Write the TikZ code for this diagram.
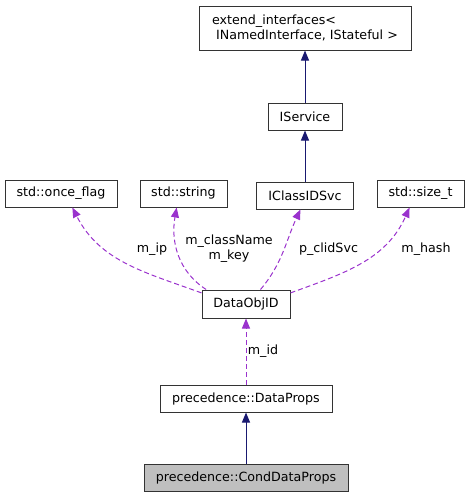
\documentclass[tikz,border=0pt]{standalone}
\usepackage{fontspec}
\setmainfont{DejaVu Sans}
\usetikzlibrary{positioning,arrows.meta}
\definecolor{navyedge}{HTML}{191970}
\definecolor{orchidedge}{HTML}{9A32CD}

\begin{document}
\begin{tikzpicture}[x=0.75pt,y=-0.75pt,
  every node/.style={font=\fontsize{9.5pt}{11.5pt}\selectfont},
  cls/.style={draw=black!80,line width=0.75pt,inner sep=0pt,minimum height=20.25pt},
  inherit/.style={draw=navyedge,line width=0.75pt,-{Triangle[length=7.5pt,width=6pt]}},
  member/.style={draw=orchidedge,line width=0.75pt,dash pattern=on 3.75pt off 2.25pt,
    -{Triangle[length=7.5pt,width=6pt]}},
  lbl/.style={inner sep=1pt,align=center}]
\useasboundingbox (0,0) rectangle (470,497);
\node [cls, minimum width=159pt, minimum height=33pt, align=left] (ext) at (305,28)
  {extend\_interfaces<\\\hspace*{3pt}INamedInterface, IStateful >};
\node [cls, minimum width=55.5pt, below=39pt of ext] (svc) {IService};
\node [cls, minimum width=72.75pt, below=38.25pt of svc] (clid) {IClassIDSvc};
\node [cls, minimum width=84pt] (once) at (61,193.5) {std::once\_flag};
\node [cls, minimum width=65.25pt] (str) at (183.5,193.5) {std::string};
\node [cls, minimum width=65.25pt] (sz) at (420.5,193.5) {std::size\_t};
\node [cls, minimum width=66pt, minimum height=21pt] (obj) at (246,304) {DataObjID};
\node [cls, minimum width=129pt, below=49.5pt of obj] (dp) {precedence::DataProps};
\node [cls, minimum width=153pt, fill=black!25, below=38.25pt of dp] (cdp) {precedence::CondDataProps};

\draw [inherit] (svc) -- (ext);
\draw [inherit] (clid) -- (svc);
\draw [inherit] (cdp) -- (dp);
\draw [member] (dp) -- node [lbl, right] {m\_id} (obj);
\draw [member] (obj.166) to [out=160, in=-63] (once.-51);
\draw [member] (obj.160) to [out=147, in=-100] (str.-116);
\draw [member] (obj.45) to [out=50, in=-115] (clid.-108);
\draw [member] (obj.14) to [out=20, in=-114] (sz.-128);
\node [lbl] (ip) at (152,249) {m\_ip};
\node [lbl] (key) at (229,249) {m\_className\\m\_key};
\node [lbl] (svcp) at (328.5,249) {p\_clidSvc};
\node [lbl] (hash) at (426,249) {m\_hash};
\end{tikzpicture}
\end{document}
